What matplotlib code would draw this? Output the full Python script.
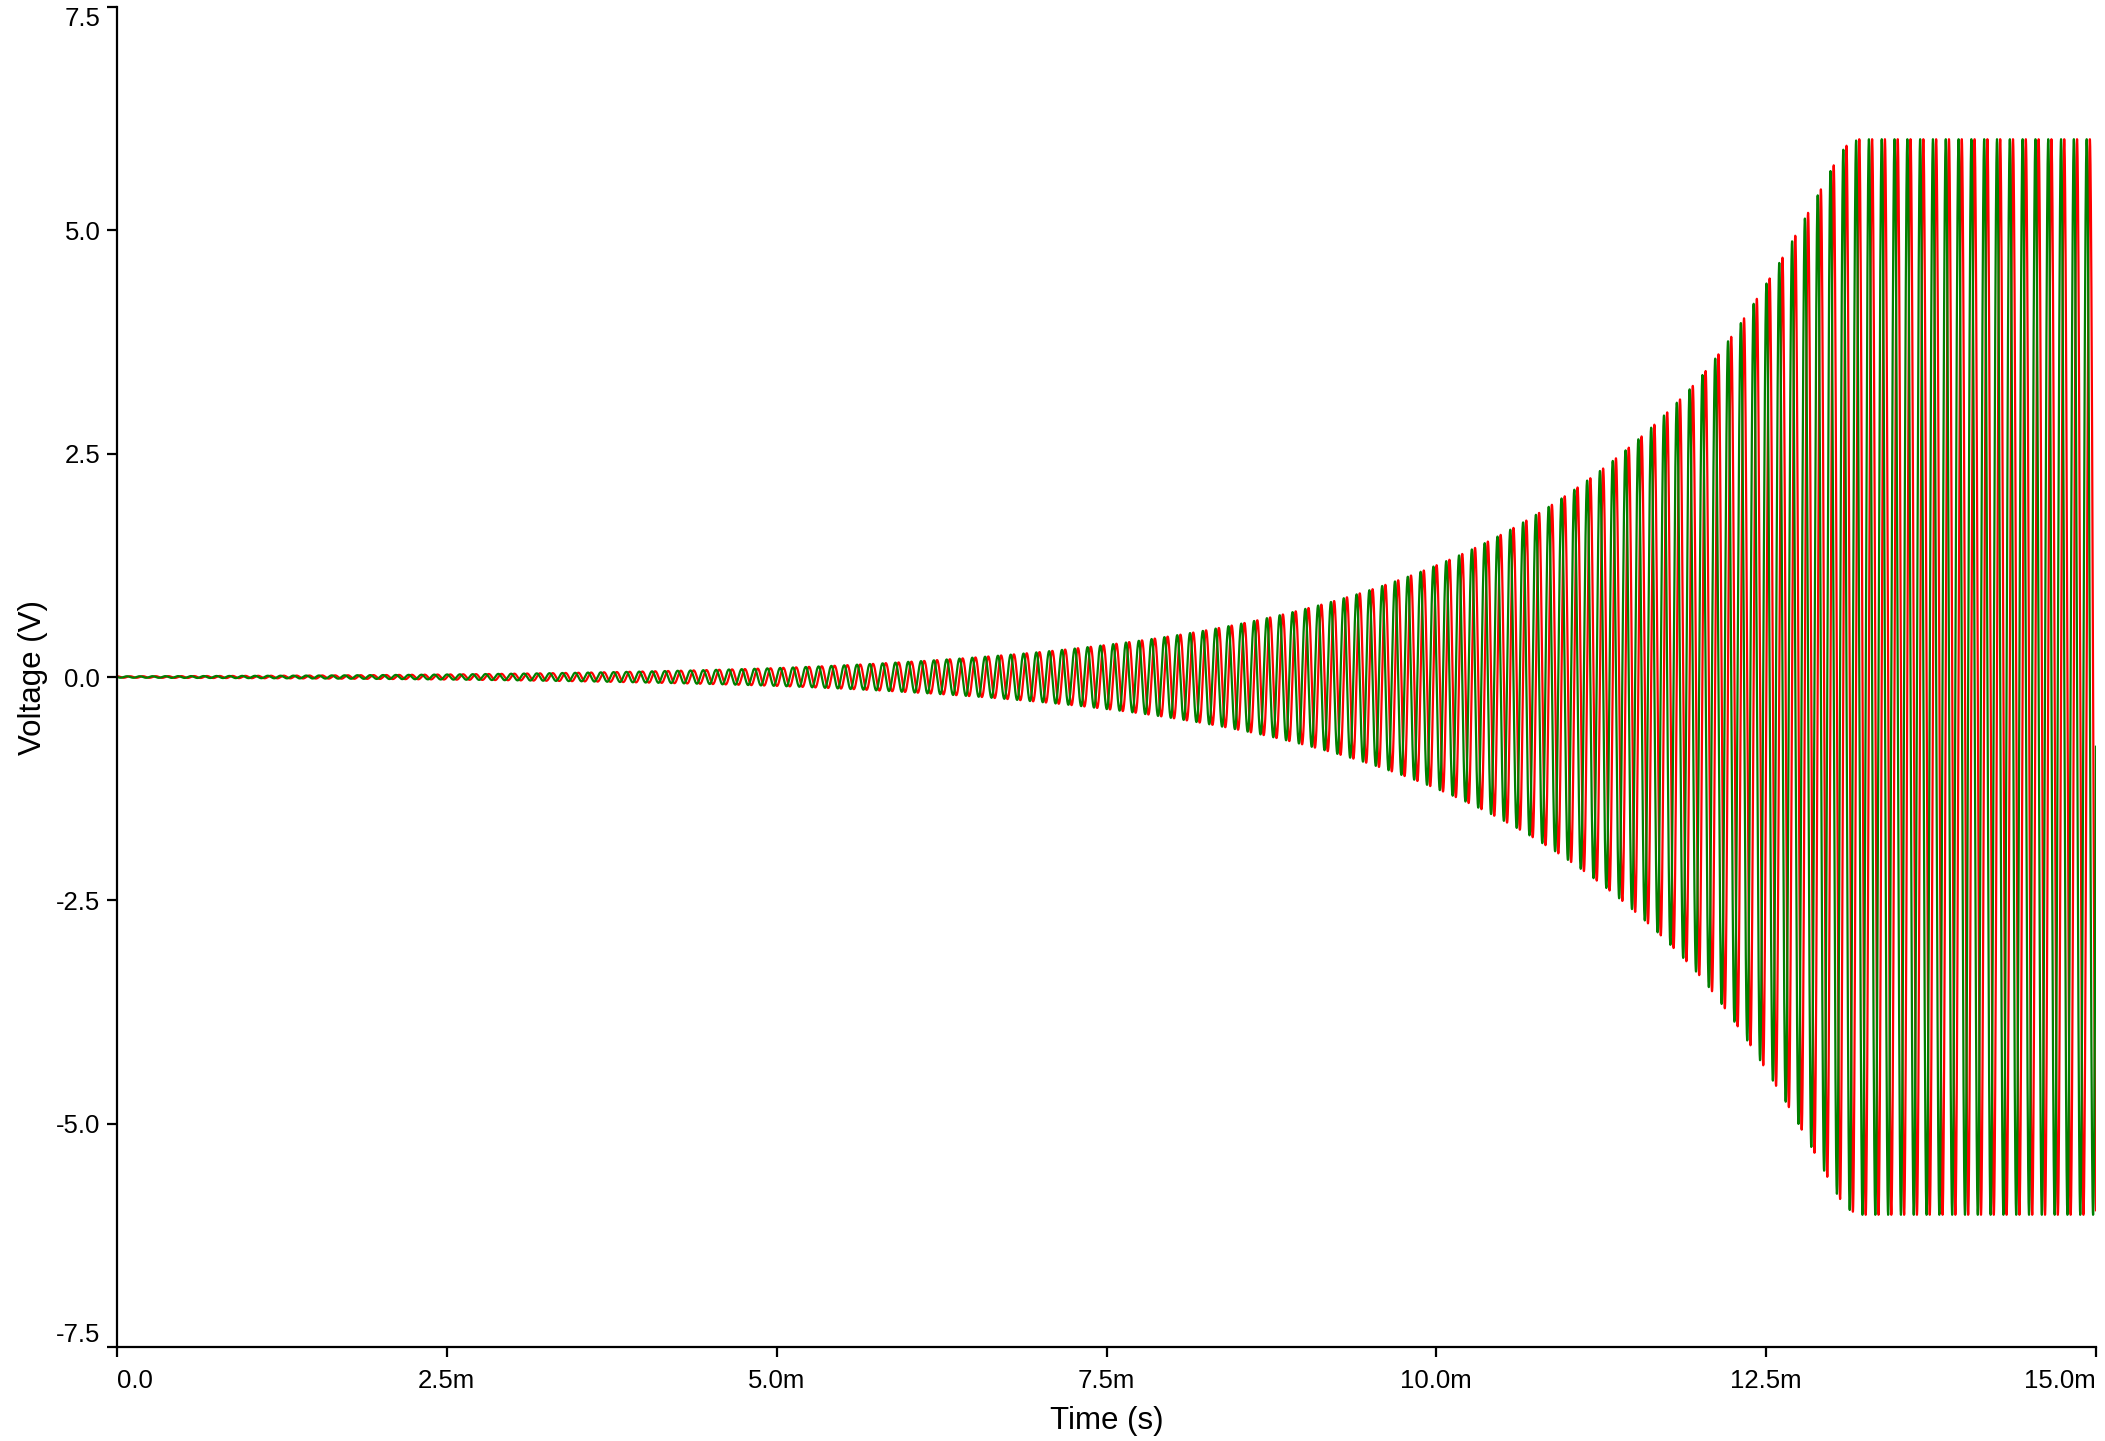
import numpy as np
import matplotlib
matplotlib.use("Agg")
import matplotlib.pyplot as plt

plt.rcParams["font.family"] = ["Liberation Sans", "DejaVu Sans"]

# --- values ---
# peak amplitude of the two oscillator outputs (V), read at these times (ms)
env_t_ms = [0, 1, 2, 3, 4, 5, 6, 7, 8, 9, 10, 11, 12, 12.5, 12.8, 13.0, 13.1, 13.2, 15.0]
env_v = [0.008, 0.013, 0.022, 0.037, 0.062, 0.10, 0.17, 0.28, 0.46, 0.76, 1.25,
         2.05, 3.35, 4.40, 5.15, 5.70, 5.94, 6.02, 6.02]
clip_v = 6.02             # rail where both traces flatten
freq_hz = 10300           # ~12.8 px per cycle on the time axis
lag_deg = 90              # red trace lags the green one by about a quarter cycle
green_end_phase = -0.13   # green ends at about -0.78 V, rising, at t = 15 ms
t_end = 15e-3

xticks = [0, 2.5e-3, 5e-3, 7.5e-3, 10e-3, 12.5e-3, 15e-3]
xtick_labels = ["0.0", "2.5m", "5.0m", "7.5m", "10.0m", "12.5m", "15.0m"]
yticks = [-7.5, -5.0, -2.5, 0.0, 2.5, 5.0, 7.5]
ytick_labels = ["-7.5", "-5.0", "-2.5", "0.0", "2.5", "5.0", "7.5"]

# --- build the traces ---
t = np.linspace(0, t_end, 60001)
amp = np.exp(np.interp(t * 1e3, env_t_ms, np.log(env_v)))
phase0 = green_end_phase - 2 * np.pi * freq_hz * t_end
ph = 2 * np.pi * freq_hz * t + phase0
v_green = np.clip(amp * np.sin(ph), -clip_v, clip_v)
v_red = np.clip(amp * np.sin(ph - np.deg2rad(lag_deg)), -clip_v, clip_v)

# --- figure ---
fig = plt.figure(figsize=(21.05, 14.41), dpi=100)
ax = fig.add_axes([117 / 2105, 1 - 1347 / 1441, (2096 - 117) / 2105, (1347 - 7) / 1441])

ax.plot(t, v_red, color="#ff0000", lw=1.6)
ax.plot(t, v_green, color="#008000", lw=1.6)

ax.set_xlim(0, t_end)
ax.set_ylim(-7.5, 7.5)
for s in ("top", "right"):
    ax.spines[s].set_visible(False)
for s in ("left", "bottom"):
    ax.spines[s].set_linewidth(1.6)

ax.set_xticks(xticks)
ax.set_xticklabels(xtick_labels)
ax.set_yticks(yticks)
ax.set_yticklabels(ytick_labels)
ax.tick_params(axis="both", labelsize=18.5, length=7, width=1.6)
ax.tick_params(axis="x", pad=8.5)
ax.tick_params(axis="y", pad=5)

xl = ax.get_xticklabels()
xl[0].set_horizontalalignment("left")
xl[-1].set_horizontalalignment("right")
yl = ax.get_yticklabels()
yl[0].set_verticalalignment("bottom")
yl[-1].set_verticalalignment("top")

ax.set_xlabel("Time (s)", fontsize=22.5, labelpad=10)
ax.set_ylabel("Voltage (V)", fontsize=22.5, labelpad=6)

fig.savefig("out.png", dpi=100)
